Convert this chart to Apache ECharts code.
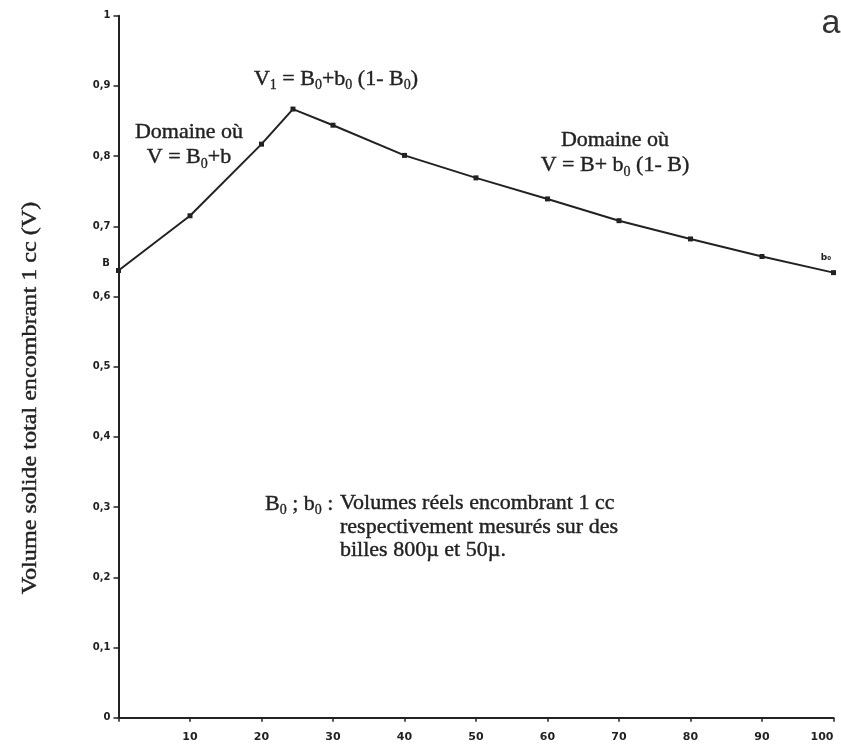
<!DOCTYPE html>
<html><head><meta charset="utf-8">
<script src="https://cdn.jsdelivr.net/npm/echarts@6/dist/echarts.min.js"></script>
<style>html,body{margin:0;padding:0;background:#fff}#c{width:841px;height:748px}</style>
</head><body><div id="c"></div>
<script>
// Data
const xValues = [0, 10, 20, 24.4, 30, 40, 50, 60, 70, 80, 90, 100];
const vValues = [0.637, 0.715, 0.817, 0.867, 0.844, 0.801, 0.769, 0.739, 0.708, 0.682, 0.657, 0.634];
const xTickLabels = ['', '10', '20', '30', '40', '50', '60', '70', '80', '90', '100'];
const yTickLabels = ['0', '0,1', '0,2', '0,3', '0,4', '0,5', '0,6', '0,7', '0,8', '0,9', '1'];

const serif = 'Liberation Serif';
const ink = '#222';
const rich = {
  n: { fontFamily: serif, fontSize: 22, lineHeight: 25, fill: ink, stroke: ink, lineWidth: 0.4 },
  s: { fontFamily: serif, fontSize: 14, lineHeight: 14, fill: ink, stroke: ink, lineWidth: 0.3, verticalAlign: 'top', padding: [12, 0, 0, 0] }
};
const richBlock = { n: { fontFamily: serif, fontSize: 22, lineHeight: 23.5, fill: ink, stroke: ink, lineWidth: 0.4 } };

const chart = echarts.init(document.getElementById('c'));
chart.setOption({
  animation: false,
  backgroundColor: '#fff',
  grid: { left: 118.5, right: 7.5, top: 15.7, bottom: 30.3, containLabel: false },
  xAxis: {
    type: 'value', min: 0, max: 100, interval: 10,
    axisLine: { lineStyle: { color: ink, width: 2 } },
    axisTick: { show: true, inside: false, length: 4, lineStyle: { color: ink, width: 1.5 } },
    splitLine: { show: false },
    axisLabel: {
      margin: 14, color: ink, fontFamily: 'DejaVu Sans', fontWeight: 'bold', fontSize: 11,
      alignMaxLabel: 'right',
      formatter: v => xTickLabels[Math.round(v / 10)]
    }
  },
  yAxis: {
    type: 'value', min: 0, max: 1, interval: 0.1,
    axisLine: { show: true, lineStyle: { color: ink, width: 2 } },
    axisTick: { show: true, length: 5, lineStyle: { color: ink, width: 1.5 } },
    splitLine: { show: false },
    axisLabel: {
      margin: 8, color: ink, fontFamily: 'DejaVu Sans', fontWeight: 'bold', fontSize: 10,
      formatter: v => yTickLabels[Math.round(v * 10)]
    }
  },
  series: [{
    type: 'line',
    data: xValues.map((x, i) => [x, vValues[i]]),
    smooth: false,
    symbol: 'rect', symbolSize: 5,
    itemStyle: { color: ink },
    lineStyle: { color: ink, width: 2 }
  }],
  graphic: [
    { type: 'text', x: 30, y: 398, rotation: Math.PI / 2, scaleX: 1.15,
      style: { text: 'Volume solide total encombrant 1 cc (V)', font: '21px "Liberation Serif"', fill: ink, stroke: ink, lineWidth: 0.4, textAlign: 'center', textVerticalAlign: 'middle' } },
    { type: 'text', x: 189, y: 145,
      style: { text: '{n|Domaine où}\n{n|V = B}{s|0}{n|+b}', rich: rich, textAlign: 'center', textVerticalAlign: 'middle' } },
    { type: 'text', x: 336, y: 79,
      style: { text: '{n|V}{s|1}{n| = B}{s|0}{n|+b}{s|0}{n| (1- B}{s|0}{n|)}', rich: rich, textAlign: 'center', textVerticalAlign: 'middle' } },
    { type: 'text', x: 615, y: 153,
      style: { text: '{n|Domaine où}\n{n|V = B+ b}{s|0}{n| (1- B)}', rich: rich, textAlign: 'center', textVerticalAlign: 'middle' } },
    { type: 'text', x: 265, y: 504,
      style: { text: '{n|B}{s|0}{n| ; b}{s|0}{n| :}', rich: rich, textAlign: 'left', textVerticalAlign: 'middle' } },
    { type: 'text', x: 340, y: 527,
      style: { text: '{n|Volumes réels encombrant 1 cc}\n{n|respectivement mesurés sur des}\n{n|billes 800µ et 50µ.}', rich: richBlock, textAlign: 'left', textVerticalAlign: 'middle' } },
    { type: 'text', x: 831, y: 41,
      style: { text: 'a', font: '34px "Liberation Sans"', fill: '#333', textAlign: 'center', textVerticalAlign: 'bottom' } },
    { type: 'text', x: 106, y: 263,
      style: { text: 'B', font: 'bold 10px "DejaVu Sans"', fill: ink, textAlign: 'center', textVerticalAlign: 'middle' } },
    { type: 'text', x: 826, y: 258,
      style: { text: 'b\u2080', font: 'bold 9px "DejaVu Sans"', fill: ink, textAlign: 'center', textVerticalAlign: 'middle' } }
  ]
});
</script>
</body></html>
